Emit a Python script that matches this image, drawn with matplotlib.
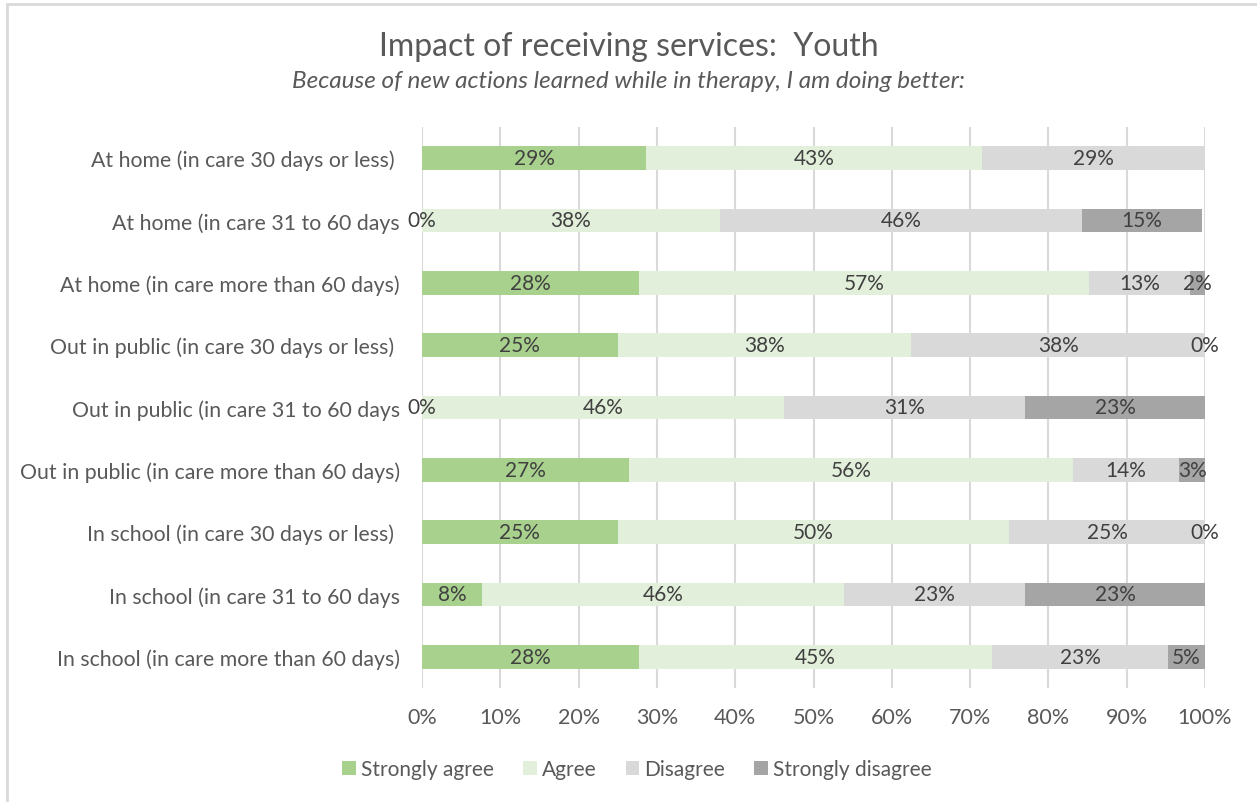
import matplotlib
matplotlib.use("Agg")
import matplotlib.pyplot as plt
from matplotlib.patches import Rectangle, Patch
import numpy as np

plt.rcParams['font.family'] = ['Lato', 'DejaVu Sans']

categories = [
    "At home (in care 30 days or less) ",
    "At home (in care 31 to 60 days",
    "At home (in care more than 60 days)",
    "Out in public (in care 30 days or less) ",
    "Out in public (in care 31 to 60 days",
    "Out in public (in care more than 60 days)",
    "In school (in care 30 days or less) ",
    "In school (in care 31 to 60 days",
    "In school (in care more than 60 days)",
]
series_names = ["Strongly agree", "Agree", "Disagree", "Strongly disagree"]
strongly_agree = [28.6, 0.0, 27.7, 25.0, 0.0, 26.5, 25.0, 7.7, 27.7]
agree = [42.9, 38.0, 57.5, 37.5, 46.2, 56.6, 50.0, 46.2, 45.1]
disagree = [28.6, 46.3, 12.9, 37.5, 30.8, 13.6, 25.0, 23.1, 22.5]
strongly_disagree = [0.0, 15.3, 1.9, 0.0, 23.0, 3.3, 0.0, 23.1, 4.7]
labels_sa = ["29%", "0%", "28%", "25%", "0%", "27%", "25%", "8%", "28%"]
labels_a = ["43%", "38%", "57%", "38%", "46%", "56%", "50%", "46%", "45%"]
labels_d = ["29%", "46%", "13%", "38%", "31%", "14%", "25%", "23%", "23%"]
labels_sd = ["", "15%", "2%", "0%", "23%", "3%", "0%", "23%", "5%"]
xticks = [0, 10, 20, 30, 40, 50, 60, 70, 80, 90, 100]

colors = ["#A9D18E", "#E2EFDA", "#D9D9D9", "#A5A5A5"]
txt = "#595959"
W, H = 1257, 803
fig = plt.figure(figsize=(W / 100, H / 100), dpi=100)
ax = fig.add_axes([422 / W, 1 - 689 / H, (1205 - 422) / W, (689 - 128) / H])

vals = [strongly_agree, agree, disagree, strongly_disagree]
labs = [labels_sa, labels_a, labels_d, labels_sd]
y = np.arange(len(categories))
left = np.zeros(len(categories))
for v, l, c, name in zip(vals, labs, colors, series_names):
    v = np.array(v)
    ax.barh(y, v, left=left, height=0.385, color=c, label=name, zorder=2)
    for yi, (lo, w, t) in enumerate(zip(left, v, l)):
        if t:
            ax.text(lo + w / 2, yi, t, ha="center", va="center", fontsize=15,
                    color="#404040", zorder=3)
    left = left + v

ax.set_ylim(len(categories) - 0.5, -0.5)
ax.set_xlim(0, 100)
ax.set_yticks(y)
ax.set_yticklabels(categories, fontsize=15.3, color=txt)
ax.set_xticks(xticks)
ax.set_xticklabels([f"{t}%" for t in xticks], fontsize=15.5, color=txt)
ax.tick_params(axis="both", length=0)
ax.tick_params(axis="y", pad=16)
ax.tick_params(axis="x", pad=14)
ax.grid(axis="x", color="#D9D9D9", linewidth=1.5, zorder=0)
ax.set_axisbelow(True)
for s in ax.spines.values():
    s.set_visible(False)

fig.text(0.5, 1 - 47 / H, "Impact of receiving services:  Youth", ha="center", va="center",
         fontsize=23, color=txt)
fig.text(0.5, 1 - 82 / H, "Because of new actions learned while in therapy, I am doing better:",
         ha="center", va="center", fontsize=17.5, style="italic", color=txt)

handles = [Patch(facecolor=c, edgecolor="none") for c in colors]
fig.legend(handles, series_names, loc="center", bbox_to_anchor=(637 / W, 1 - 770 / H), ncol=4,
           frameon=False, fontsize=15, labelcolor=txt, handlelength=0.65, handleheight=0.65,
           handletextpad=0.25, columnspacing=1.4)

fig.patches.append(Rectangle((7 / W, -0.05), 1.1, 1.05 - 5 / H, transform=fig.transFigure,
                             fill=False, edgecolor="#D9D9D9", linewidth=2))

fig.savefig("out.png", dpi=100, facecolor="white")
